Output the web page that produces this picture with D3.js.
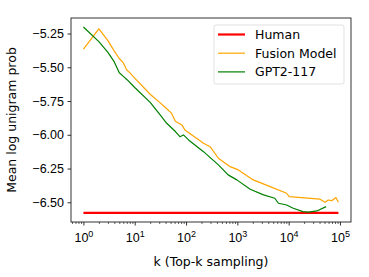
<!DOCTYPE html>
<html>
<head>
<meta charset="utf-8">
<script src="https://cdn.jsdelivr.net/npm/d3@7"></script>
<style>
  body { margin: 0; background: #fff; }
  svg { display: block; font-family: "DejaVu Sans", sans-serif; }
</style>
</head>
<body>
<svg id="chart"></svg>
<script>
// values
let seriesNames = ["Human", "Fusion Model", "GPT2-117"]
let seriesColors = ["#ff0000", "#ffa500", "#008000"]

let humanK = [1, 93300]
let humanV = [-6.579, -6.579]

let fusionK = [1, 2, 3, 4, 5, 6, 7, 8, 10, 20, 31, 40, 52, 62, 83, 95, 219, 295, 427, 724, 1047,
               2042, 4365, 9120, 10230, 40740, 51300, 58900, 69180, 83180, 93300]
let fusionV = [-5.365, -5.215, -5.303, -5.38, -5.435, -5.468, -5.52, -5.54, -5.58, -5.70, -5.762,
               -5.80, -5.84, -5.90, -5.927, -5.964, -6.063, -6.088, -6.174, -6.236, -6.26,
               -6.334, -6.384, -6.433, -6.458, -6.477, -6.50, -6.483, -6.488, -6.465, -6.50]

let gptK = [1, 2, 3, 4, 5, 6, 7, 10, 20, 31, 42, 62, 76, 89, 112, 219, 427, 661, 977,
            1778, 3236, 5370, 6310, 9120, 12300, 19050, 24000, 35480, 53700]
let gptV = [-5.202, -5.31, -5.39, -5.46, -5.54, -5.567, -5.59, -5.65, -5.76, -5.85, -5.915,
            -5.976, -6.014, -6.001, -6.038, -6.125, -6.223, -6.297, -6.334,
            -6.403, -6.445, -6.47, -6.507, -6.52, -6.544, -6.569, -6.573, -6.564, -6.532]

let yTicks = [-5.25, -5.5, -5.75, -6.0, -6.25, -6.5]
let xTicks = [1, 10, 100, 1000, 10000, 100000]

let width = 369
let height = 277
let padLeft = 71, padRight = 351, padTop = 18, padBottom = 222

let svg = d3.select("#chart").attr("width", width).attr("height", height)

let xScale = d3.scaleLog().domain([Math.pow(10, -0.242), Math.pow(10, 5.215)]).range([padLeft, padRight])
let yScale = d3.scaleLinear().domain([-6.646, -5.135]).range([padBottom, padTop])

let series = [
  { k: humanK, v: humanV, w: 2.2 },
  { k: fusionK, v: fusionV, w: 1.2 },
  { k: gptK, v: gptV, w: 1.2 }
]

let line = d3.line()
  .x(d => xScale(d[0]))
  .y(d => yScale(d[1]))

series.forEach((s, i) => {
  svg.append("path")
    .datum(s.k.map((k, j) => [k, s.v[j]]))
    .attr("d", line)
    .attr("fill", "none")
    .attr("stroke", seriesColors[i])
    .attr("stroke-width", s.w)
    .attr("stroke-linejoin", "round")
})

// axes
let fontSize = 12.5

let yAxis = d3.axisLeft(yScale).tickValues(yTicks).tickSize(3.5).tickPadding(3.5)
  .tickFormat(d => d3.format(".2f")(d).replace("-", "\u2212"))
let gy = svg.append("g").attr("transform", "translate(" + padLeft + ",0)").call(yAxis)
gy.select(".domain").remove()
gy.selectAll("text").style("font-size", fontSize + "px").attr("fill", "#000")
gy.selectAll("line").attr("stroke", "#000").attr("stroke-width", 0.8)

// minor ticks on log axis
let minor = []
for (let e = -1; e <= 5; e++) {
  for (let m = 2; m <= 9; m++) {
    let v = m * Math.pow(10, e)
    if (xScale(v) >= padLeft && xScale(v) <= padRight) minor.push(v)
  }
}
let gxm = svg.append("g").attr("transform", "translate(0," + padBottom + ")")
  .call(d3.axisBottom(xScale).tickValues(minor).tickSize(2).tickFormat(""))
gxm.select(".domain").remove()
gxm.selectAll("line").attr("stroke", "#000").attr("stroke-width", 0.6)

let xAxis = d3.axisBottom(xScale).tickValues(xTicks).tickSize(3.5).tickPadding(3.5).tickFormat("")
let gx = svg.append("g").attr("transform", "translate(0," + padBottom + ")").call(xAxis)
gx.select(".domain").remove()
gx.selectAll("line").attr("stroke", "#000").attr("stroke-width", 0.8)
gx.selectAll(".tick").each(function(d) {
  let t = d3.select(this).append("text")
    .attr("y", 20)
    .attr("text-anchor", "middle")
    .attr("fill", "#000")
    .style("font-size", fontSize + "px")
  t.append("tspan").text("10")
  t.append("tspan").attr("dy", -5).style("font-size", "9px").text(Math.round(Math.log10(d)))
})

// frame
svg.append("rect")
  .attr("x", padLeft).attr("y", padTop)
  .attr("width", padRight - padLeft).attr("height", padBottom - padTop)
  .attr("fill", "none").attr("stroke", "#000").attr("stroke-width", 0.8)

// axis labels
svg.append("text")
  .text("k (Top-k sampling)")
  .attr("x", (padLeft + padRight) / 2)
  .attr("y", 266)
  .attr("text-anchor", "middle")
  .style("font-size", fontSize + "px")

svg.append("text")
  .text("Mean log unigram prob")
  .attr("transform", "translate(16," + ((padTop + padBottom) / 2) + ") rotate(-90)")
  .attr("text-anchor", "middle")
  .style("font-size", fontSize + "px")

// legend
let legend = svg.append("g")
legend.append("rect")
  .attr("x", 214).attr("y", 25).attr("width", 130).attr("height", 59)
  .attr("rx", 2).attr("fill", "#fff").attr("fill-opacity", 0.8)
  .attr("stroke", "#d9d9d9").attr("stroke-width", 0.8)

seriesNames.forEach((name, i) => {
  let y = 34.5 + i * 18.7
  legend.append("line")
    .attr("x1", 218).attr("x2", 245).attr("y1", y).attr("y2", y)
    .attr("stroke", seriesColors[i]).attr("stroke-width", series[i].w)
  legend.append("text")
    .text(name)
    .attr("x", 255).attr("y", y + 4.5)
    .style("font-size", fontSize + "px")
})
</script>
</body>
</html>
